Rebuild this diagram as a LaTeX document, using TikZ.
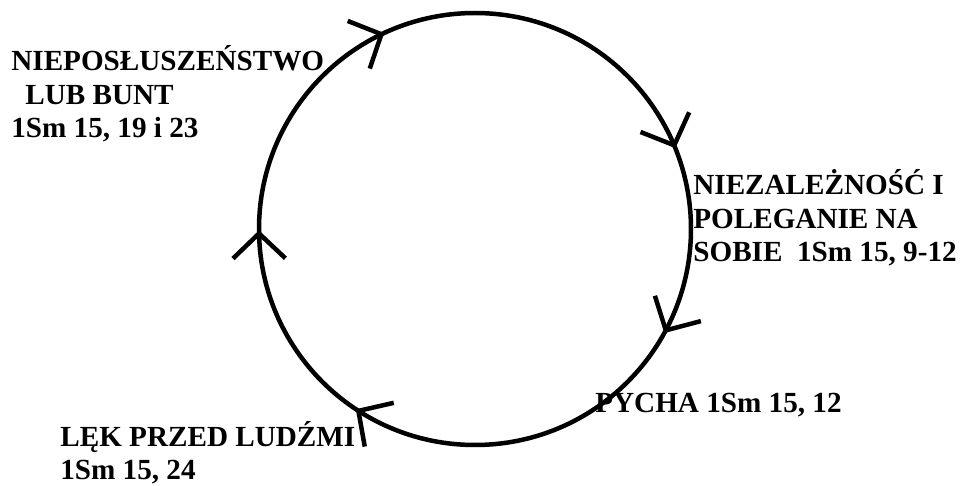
\documentclass[tikz,border=0pt]{standalone}
\usepackage{fontspec}
\setmainfont{Liberation Serif}
\usetikzlibrary{arrows.meta,decorations.markings}

\begin{document}
\begin{tikzpicture}[x=0.02cm, y=0.02cm,
  lbl/.style={anchor=base west, inner sep=0pt, align=left, font=\bfseries\fontsize{16.6}{19.1}\selectfont},
  cycle/.style={line width=0.09cm, draw=black},
  barb/.style={decoration={markings,
    mark=at position 0.080 with {\arrow{Straight Barb[length=0.5cm, width=1.05cm]}},
    mark=at position 0.343 with {\arrow{Straight Barb[length=0.5cm, width=1.05cm]}},
    mark=at position 0.499 with {\arrow{Straight Barb[length=0.5cm, width=1.05cm]}},
    mark=at position 0.681 with {\arrow{Straight Barb[length=0.5cm, width=1.05cm]}},
    mark=at position 0.939 with {\arrow{Straight Barb[length=0.5cm, width=1.05cm]}}},
    postaction={decorate}}
]
\useasboundingbox (0,0) rectangle (965,-486);

\coordinate (c) at (475,-229);
\draw[cycle, barb] (c) ++(0:216) arc[start angle=0, end angle=-360, radius=216];

\node[lbl] (nieposluszenstwo) at (11,-138) {NIEPOSŁUSZEŃSTWO\\\hspace{0.28cm}LUB BUNT\\1Sm 15, 19 i 23};
\node[lbl] (niezaleznosc) at (693,-262) {NIEZALEŻNOŚĆ I\\POLEGANIE NA\\SOBIE\ \ 1Sm 15, 9-12};
\node[lbl] (pycha) at (595,-413) {PYCHA 1Sm 15, 12};
\node[lbl] (lek) at (60,-480) {LĘK PRZED LUDŹMI\\1Sm 15, 24};
\end{tikzpicture}
\end{document}
